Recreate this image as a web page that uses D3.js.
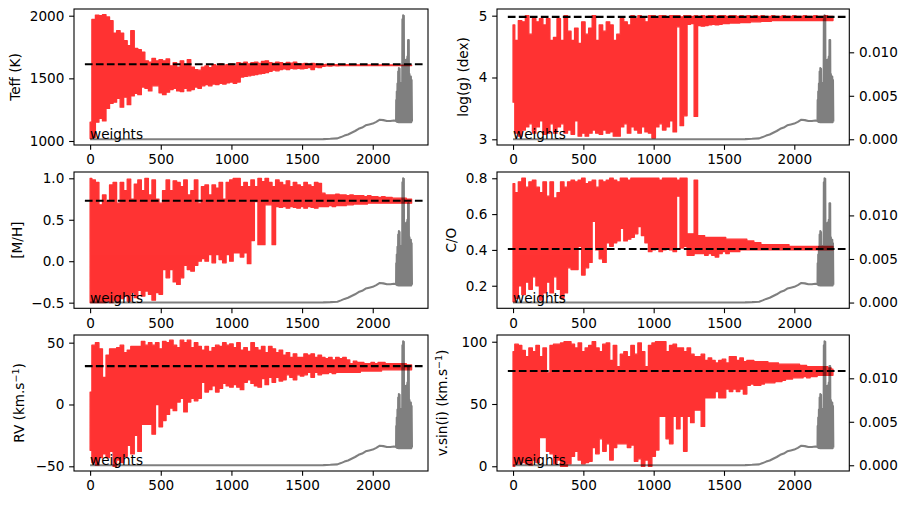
<!DOCTYPE html>
<html>
<head>
<meta charset="utf-8">
<script src="https://cdn.jsdelivr.net/npm/d3@7/dist/d3.min.js"></script>
<style>
  html, body { margin: 0; padding: 0; background: #fff; }
  svg { display: block; }
  text { font-family: "DejaVu Sans", sans-serif; fill: #000; }
</style>
</head>
<body>
<svg id="chart" width="908" height="505"></svg>
<script>
// Chain samples are stored as an upper and lower envelope, one pair every 25 iterations.
const sampleIterations = d3.range(0, 2276, 25);

const teffHi = [1150,1970,2005,2000,2008,1990,1960,1860,1880,1860,
  1800,1760,1880,1740,1730,1710,1640,1630,1660,1640,
  1650,1640,1655,1600,1625,1590,1640,1610,1650,1590,
  1570,1565,1590,1600,1585,1610,1600,1615,1605,1610,
  1615,1600,1625,1620,1630,1615,1625,1630,1620,1635,
  1640,1625,1620,1630,1625,1618,1628,1622,1630,1618,
  1615,1620,1612,1620,1615,1612,1610,1612,1610,1610,
  1610,1610,1609,1610,1609,1609,1608,1609,1608,1608,
  1608,1608,1607,1608,1607,1607,1607,1607,1606,1606,
  1606,1606];
const teffLo = [1020,1030,1150,1180,1160,1260,1300,1310,1340,1270,
  1350,1290,1360,1380,1370,1430,1420,1400,1440,1440,
  1385,1370,1390,1410,1420,1400,1395,1420,1400,1410,
  1430,1420,1440,1450,1440,1455,1450,1460,1455,1465,
  1470,1460,1470,1510,1515,1520,1525,1530,1535,1540,
  1545,1555,1565,1560,1570,1575,1570,1580,1575,1580,
  1575,1580,1585,1570,1590,1585,1595,1600,1598,1602,
  1600,1601,1602,1602,1601,1602,1602,1602,1602,1602,
  1602,1602,1602,1602,1602,1602,1602,1602,1602,1602,
  1602,1602];

const loggHi = [4.85,4.6,4.92,4.9,5.0,4.7,4.95,4.9,4.95,4.85,
  4.95,4.6,4.65,4.95,4.6,5.0,4.75,4.6,4.8,4.55,
  4.9,4.7,4.8,5.0,4.6,4.85,4.75,4.9,4.85,4.6,
  4.7,4.95,4.9,4.85,5.0,4.95,5.0,4.98,4.9,5.0,
  5.0,4.95,5.0,5.0,4.98,5.0,5.0,5.0,4.98,5.0,
  5.0,4.99,5.0,4.99,5.0,4.99,5.0,5.0,4.99,5.0,
  5.0,4.99,5.0,5.0,4.99,5.0,4.99,5.0,4.99,5.0,
  4.99,5.0,4.99,4.99,5.0,4.99,4.99,5.0,4.99,4.99,
  5.0,4.99,4.99,5.0,4.99,4.99,5.0,4.99,4.99,5.0,
  4.99,4.99];
const loggLo = [3.6,3.1,3.05,3.15,3.2,3.25,3.1,3.2,3.3,3.08,
  3.1,3.25,3.1,3.2,3.25,3.1,3.15,3.08,3.3,3.05,
  3.1,3.05,3.1,3.15,3.1,3.08,3.15,3.1,3.12,3.05,
  3.05,3.2,3.25,3.1,3.2,3.15,3.1,3.2,3.12,3.1,
  3.02,3.2,3.25,3.15,3.2,3.3,3.12,4.82,3.22,3.38,
  4.86,4.87,3.37,4.84,4.83,4.84,4.85,4.86,4.85,4.86,
  4.87,4.87,4.88,4.88,4.88,4.89,4.89,4.89,4.9,4.9,
  4.9,4.91,4.91,4.91,4.92,4.92,4.92,4.92,4.92,4.92,
  4.92,4.92,4.92,4.92,4.92,4.92,4.92,4.92,4.92,4.92,
  4.92,4.92];

const metalHi = [1.0,.98,.95,.68,.8,.72,.92,.95,.7,.95,
  .85,.99,.75,.93,.98,.85,1.0,.8,.98,.75,
  .7,.85,.98,.85,.97,.95,.9,.98,.8,.85,
  .98,.7,.9,.92,.8,.92,.88,.95,.75,.95,
  .98,1.0,1.0,.9,.95,.9,.98,.9,1.0,.96,
  1.0,.95,.9,.98,.95,.92,.97,.9,.95,.92,
  .9,.95,.92,.9,.95,.94,.82,.8,.8,.8,
  .81,.8,.8,.79,.8,.79,.79,.79,.78,.79,
  .78,.78,.77,.78,.77,.77,.76,.76,.76,.76,
  .75,.75];
const metalLo = [-.5,-.5,-.5,-.5,-.5,-.48,-.5,-.47,-.5,-.45,
  -.42,-.48,-.38,-.44,-.35,-.42,-.36,-.4,-.47,-.38,
  -.4,-.1,-.2,-.1,-.25,-.28,-.2,-.05,-.1,-.12,
  -.05,0,.03,0,.08,-.02,.08,.02,-.02,.08,
  0,.1,.1,.05,.1,-.03,.25,.72,.2,.2,
  .68,.68,.2,.66,.65,.66,.64,.66,.65,.64,
  .66,.64,.66,.65,.64,.66,.66,.66,.67,.66,
  .67,.67,.67,.68,.68,.69,.69,.69,.69,.7,
  .7,.7,.7,.7,.7,.7,.7,.7,.7,.7,
  .7,.7];

const coHi = [.77,.72,.78,.8,.75,.78,.79,.75,.72,.78,
  .7,.78,.69,.72,.78,.75,.78,.79,.78,.79,
  .8,.77,.78,.79,.75,.79,.78,.79,.8,.79,
  .78,.8,.8,.79,.8,.8,.8,.8,.8,.8,
  .8,.8,.79,.8,.8,.8,.8,.79,.8,.8,
  .49,.49,.79,.48,.48,.47,.47,.47,.47,.47,
  .47,.46,.46,.46,.46,.46,.46,.45,.45,.44,
  .44,.43,.43,.43,.43,.43,.43,.43,.43,.42,
  .42,.42,.42,.42,.42,.42,.42,.42,.42,.42,
  .42,.42];
const coLo = [.11,.13,.2,.15,.22,.18,.25,.2,.12,.16,
  .22,.16,.25,.18,.13,.16,.3,.29,.29,.42,
  .26,.3,.33,.56,.4,.35,.33,.44,.42,.44,
  .45,.52,.45,.46,.47,.49,.53,.48,.44,.39,
  .4,.41,.39,.4,.41,.4,.39,.7,.41,.42,
  .37,.37,.38,.38,.38,.37,.38,.37,.36,.38,
  .39,.38,.39,.39,.39,.4,.4,.4,.4,.4,
  .4,.4,.4,.4,.4,.4,.4,.4,.4,.4,
  .4,.4,.4,.4,.4,.4,.4,.4,.4,.4,
  .4,.4];

const rvHi = [10,48,50,45,22,40,45,45,46,48,
  42,44,47,47,47,51,48,50,48,50,
  45,51,50,52,48,46,52,50,52,46,
  50,47,44,47,43,46,48,47,50,48,
  49,46,50,44,46,43,50,46,44,47,
  42,47,45,42,44,40,42,38,41,38,
  38,41,40,41,38,40,38,37,38,36,
  38,37,38,36,33,35,34,34,33,33,
  34,33,34,34,33,33,33,33,33,33,
  32,32];
const rvLo = [-37,-47,-49,-43,-40,-43,-38,-50,-45,-47,
  -42,-33,-40,-25,-38,-16,-16,-16,-24,0,
  -18,-13,-8,-3,-5,2,5,-6,2,5,
  3,5,18,10,12,15,10,13,17,15,
  14,16,14,12,18,20,17,15,14,21,
  16,22,18,22,19,20,24,22,20,24,
  23,24,26,22,26,24,25,25,26,25,
  26,26,26,26,26,26,26,27,27,27,
  27,27,27,28,28,28,28,28,28,28,
  28,28];

const vsiniHi = [92,98,97,93,88,95,92,97,88,95,
  75,97,98,98,99,100,100,98,95,99,
  92,95,97,100,95,92,98,99,85,97,
  80,90,92,88,97,90,99,92,80,97,
  99,100,100,100,92,97,98,95,95,92,
  95,90,88,88,90,85,87,85,83,85,
  86,83,88,88,85,87,84,85,85,84,
  84,84,84,83,83,83,82,82,82,82,
  82,82,81,81,80,80,80,80,80,80,
  79,78];
const vsiniLo = [0,2,2,3,2,1,5,3,23,23,
  12,10,2,5,0,0,2,8,12,5,
  2,3,4,15,10,22,12,18,5,15,
  18,18,18,15,17,4,6,0,5,0,
  8,13,40,40,22,18,40,30,40,12,
  40,35,45,45,32,55,55,55,60,55,
  55,62,60,62,60,62,58,65,66,65,
  65,66,67,67,67,68,68,69,70,70,
  71,71,71,72,71,72,72,73,73,73,
  73,73];

// Sample weights: slow rise, then the final burst drawn as a dense zigzag.
const weightIters = [0,500,1000,1500,1650,1700,1750,1775,1800,1825,1850,1875,1900,1925,1950,1975,2000,2025,2050,2075,2100,2125,2150,2165];
const weightValues = [0,0,0,0,.00002,.00005,.0001,.00025,.00042,.00055,.00075,.00095,.0012,.00135,.0016,.0017,.0018,.002,.00225,.0022,.0021,.0021,.00215,.0021];
const burstIters = [2166,2170,2175,2180,2185,2190,2195,2200,2205,2210,2215,2220,2225,2230,2235,2240,2245,2250,2255,2260,2265,2270,2275];
const burstPeaks = [.0045,.0055,.0064,.0078,.0082,.0081,.0065,.005,.0065,.0138,.01425,.0142,.0085,.0091,.0085,.0092,.0095,.0114,.0114,.0075,.007,.0072,.0068];
const burstFloors = [.00205,.002,.002,.00195,.002,.00195,.002,.00195,.002,.00195,.002,.00195,.002,.00195,.002,.00195,.002,.00195,.002,.00195,.002,.00195,.00205];

const bestValues = [1613, 4.98, 0.73, 0.405, 31, 76.5];
const yLabels = [["Teff (K)"], ["log(g) (dex)"], ["[M/H]"], ["C/O"], ["RV (km.s", "−1", ")"], ["v.sin(i) (km.s", "−1", ")"]];
const yTicks = [[1000,1500,2000],[3,4,5],[-.5,0,.5,1],[.2,.4,.6,.8],[-50,0,50],[0,50,100]];
const yFormats = [".0f",".0f",".1f",".1f",".0f",".0f"];
const yDomains = [[968,2053.5],[2.908,5.108],[-.568,1.076],[.074,.835],[-53.8,56.2],[-3.8,105.4]];
const upper = [teffHi, loggHi, metalHi, coHi, rvHi, vsiniHi];
const lower = [teffLo, loggLo, metalLo, coLo, rvLo, vsiniLo];

const xTicks = [0,500,1000,1500,2000];
const weightTicks = [0,.005,.01];
const xDomain = [-114, 2391];
const weightDomain = [-.00066, .01498];
const bestSpan = [-37, 2365];

// Grid geometry
const columns = [[74, 428], [497, 849.3]];
const rows = [[9, 145], [172, 308.3], [335, 471]];
const labelBaselines = [19.5, 468, 22, 456, 24, 447];
const fontSize = 13.6;
const tickLen = 4.86;

const svg = d3.select("#chart");

function weightTrace() {
  const pts = weightIters.map((it, i) => [it, weightValues[i]]);
  burstIters.forEach((it, i) => {
    pts.push([it, burstPeaks[i]]);
    pts.push([it + 2.5, burstFloors[i]]);
  });
  return pts;
}

function styleAxis(g) {
  g.selectAll("text").attr("font-size", fontSize);
  g.selectAll("line").attr("stroke", "#000").attr("stroke-width", 1.1);
  g.select(".domain").remove();
}

upper.forEach((hi, i) => {
  const col = columns[i % 2], row = rows[Math.floor(i / 2)];
  const x = d3.scaleLinear().domain(xDomain).range(col);
  const y = d3.scaleLinear().domain(yDomains[i]).range([row[1], row[0]]);
  const yW = d3.scaleLinear().domain(weightDomain).range([row[1], row[0]]);
  const panel = svg.append("g");
  const clipId = "clip" + i;
  panel.append("clipPath").attr("id", clipId).append("rect")
    .attr("x", col[0]).attr("y", row[0])
    .attr("width", col[1] - col[0]).attr("height", row[1] - row[0]);

  const marks = panel.append("g").attr("clip-path", `url(#${clipId})`);

  // The chain is so dense it reads as a filled band between its extremes.
  const band = d3.area()
    .x(it => x(it))
    .y1((it, k) => y(hi[k]))
    .y0((it, k) => y(lower[i][k]))
    .curve(d3.curveStep);
  marks.append("path").datum(sampleIterations)
    .attr("d", band)
    .attr("fill", "red").attr("stroke", "red")
    .attr("stroke-width", 1.3).attr("stroke-linejoin", "round")
    .attr("opacity", .8);

  marks.append("line")
    .attr("x1", x(bestSpan[0])).attr("x2", x(bestSpan[1]))
    .attr("y1", y(bestValues[i])).attr("y2", y(bestValues[i]))
    .attr("stroke", "#000").attr("stroke-width", 2.08)
    .attr("stroke-dasharray", "7.7 3.3");

  const weightLine = d3.line().x(d => x(d[0])).y(d => yW(d[1]));
  marks.append("path").datum(weightTrace())
    .attr("d", weightLine).attr("fill", "none")
    .attr("stroke", "#000").attr("stroke-opacity", .5)
    .attr("stroke-width", 2.08).attr("stroke-linejoin", "round");

  panel.append("text").attr("x", x(0)).attr("y", yW(0))
    .attr("font-size", fontSize).text("weights");

  // Frame
  panel.append("rect")
    .attr("x", col[0]).attr("y", row[0])
    .attr("width", col[1] - col[0]).attr("height", row[1] - row[0])
    .attr("fill", "none").attr("stroke", "#000").attr("stroke-width", 1.1);

  panel.append("g").attr("transform", `translate(0,${row[1]})`)
    .call(d3.axisBottom(x).tickValues(xTicks).tickFormat(d3.format("d")).tickSize(tickLen).tickPadding(4.8))
    .call(styleAxis);
  panel.append("g").attr("transform", `translate(${col[0]},0)`)
    .call(d3.axisLeft(y).tickValues(yTicks[i]).tickFormat(d3.format(yFormats[i])).tickSize(tickLen).tickPadding(4.8))
    .call(styleAxis);
  if (i % 2 === 1) {
    panel.append("g").attr("transform", `translate(${col[1]},0)`)
      .call(d3.axisRight(yW).tickValues(weightTicks).tickFormat(d3.format(".3f")).tickSize(tickLen).tickPadding(4.8))
      .call(styleAxis);
  }

  const parts = yLabels[i];
  const label = panel.append("text")
    .attr("transform", `translate(${labelBaselines[i]},${(row[0] + row[1]) / 2}) rotate(-90)`)
    .attr("text-anchor", "middle").attr("font-size", fontSize);
  label.append("tspan").text(parts[0]);
  if (parts.length > 1) {
    label.append("tspan").attr("font-size", fontSize * .7).attr("dy", -5.5).text(parts[1]);
    label.append("tspan").attr("dy", 5.5).text(parts[2]);
  }
});
</script>
</body>
</html>
